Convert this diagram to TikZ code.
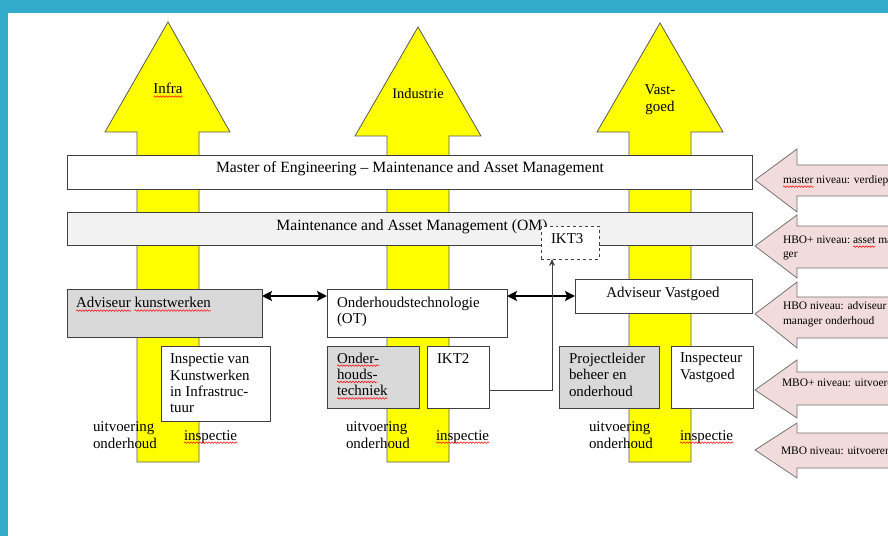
\documentclass[tikz,border=0pt]{standalone}
\usepackage{fontspec}
\setmainfont{Liberation Serif}
\usetikzlibrary{arrows.meta,calc,fit,decorations.pathmorphing}

\definecolor{frameteal}{RGB}{49,171,201}
\definecolor{flowyellow}{RGB}{255,255,0}
\definecolor{edgegray}{RGB}{90,90,90}
\definecolor{boxgray}{RGB}{217,217,217}
\definecolor{barlight}{RGB}{242,242,242}
\definecolor{levelpink}{RGB}{242,220,219}

\tikzset{
  uparrow/.style={fill=flowyellow, draw=edgegray, line width=0.8bp},
  levelarrow/.style={fill=levelpink, draw=edgegray!85, line width=0.8bp},
  panel/.style={draw=black!75, line width=0.9bp, inner sep=0pt, outer sep=0pt, rectangle},
  bar/.style={panel, fill=white},
  greybox/.style={panel, fill=boxgray},
  whitebox/.style={panel, fill=white},
  txt/.style={font=\fontsize{15}{16.4}\selectfont, inner sep=0pt, outer sep=0pt, align=left},
  bartxt/.style={txt, font=\fontsize{15.7}{17}\selectfont},
  smalltxt/.style={font=\fontsize{11.5}{15}\selectfont, inner sep=0pt, outer sep=0pt, align=left},
  link/.style={{Stealth[length=10bp,width=10bp,inset=2bp]}-{Stealth[length=10bp,width=10bp,inset=2bp]}, line width=2.6bp, black},
  feed/.style={-{Stealth[length=7bp,width=6bp]}, draw=black!75, line width=0.8bp},
  spell/.style={draw=red, line width=0.5bp, decorate, decoration={snake, amplitude=0.8bp, segment length=3bp}}
}
% red wavy mark under a named word node
\newcommand\wavyunder[1]{\draw[spell] ($(#1.base west)+(0,2.6)$) -- ($(#1.base east)+(0,2.6)$);}

\begin{document}
\begin{tikzpicture}[x=1bp,y=-1bp]
\useasboundingbox (0,0) rectangle (888,536);
\clip (0,0) rectangle (888,536);

% frame
\fill[white] (0,0) rectangle (888,536);
\fill[frameteal] (0,0) rectangle (888,13);
\fill[frameteal] (0,0) rectangle (8,536);

% three sector arrows
\draw[uparrow] (137,462) -- (137,132) -- (105,132) -- (168,22) -- (230,132) -- (199,132) -- (199,462) -- cycle;
\draw[uparrow] (387,462) -- (387,136) -- (355,136) -- (418,27) -- (481,136) -- (449,136) -- (449,462) -- cycle;
\draw[uparrow] (629,462) -- (629,132) -- (597,132) -- (660,23) -- (723,132) -- (691,132) -- (691,462) -- cycle;

\node[txt, anchor=base] (tinfra) at (168,94) {Infra};
\wavyunder{tinfra}
\node[txt, anchor=base, font=\fontsize{14.5}{16}\selectfont] (tind) at (418,99) {Industrie};
\node[txt, anchor=north, align=center] (tvast) at (660,85) {Vast-\\goed};

% education level arrows
\draw[levelarrow] (900,165) -- (797,165) -- (797,149) -- (755,180) -- (797,212) -- (797,196) -- (900,196);
\draw[levelarrow] (900,226) -- (797,226) -- (797,215) -- (755,246) -- (797,278) -- (797,268) -- (900,268);
\draw[levelarrow] (900,297) -- (797,297) -- (797,282) -- (755,314) -- (797,348) -- (797,338) -- (900,338);
\draw[levelarrow] (900,372) -- (797,372) -- (797,360) -- (755,390) -- (797,418) -- (797,405) -- (900,405);
\draw[levelarrow] (900,433) -- (797,433) -- (797,423) -- (755,450) -- (797,478) -- (797,468) -- (900,468);

\node[smalltxt, anchor=base west] (l1a) at (783,184) {master};
\node[smalltxt, anchor=base west] (l1b) at ($(l1a.base east)+(2.9,0)$) {niveau: verdieping};
\wavyunder{l1a}
\node[smalltxt, anchor=base west] (l2a) at (783,244) {HBO+ niveau:};
\node[smalltxt, anchor=base west] (l2b) at ($(l2a.base east)+(2.9,0)$) {asset};
\node[smalltxt, anchor=base west] (l2c) at ($(l2b.base east)+(2.9,0)$) {mana};
\node[smalltxt, anchor=base west] (l2d) at (783,258) {ger};
\wavyunder{l2b}
\node[smalltxt, anchor=north west] (l3) at (783,302) {HBO niveau: adviseur\\manager onderhoud};
\node[smalltxt, anchor=base west] (l4) at (782,386) {MBO+ niveau: uitvoerend};
\node[smalltxt, anchor=base west] (l5) at (781,454) {MBO niveau: uitvoerend};

% programme bars
\node[bar, fit={(67,155) (752,189)}] (master) {};
\node[bartxt, anchor=base] (tmaster) at (410,173) {Master of Engineering -- Maintenance and Asset Management};
\node[panel, fill=barlight, fit={(67,212) (752,245)}] (om) {};
\node[bartxt, anchor=base] (tom) at (412,231) {Maintenance and Asset Management (OM)};

% job profile boxes
\node[greybox, fit={(67,289) (262,337)}] (ak) {};
\node[whitebox, fit={(327,289) (507,337)}] (ot) {};
\node[whitebox, fit={(575,279) (752,313)}] (av) {};
\node[whitebox, fit={(161,346) (270,421)}] (ikv) {};
\node[greybox, fit={(327,346) (419,408)}] (oht) {};
\node[whitebox, fit={(427,346) (489,408)}] (ikt2) {};
\node[greybox, fit={(559,346) (659,408)}] (pbo) {};
\node[whitebox, fit={(671,346) (753,408)}] (iv) {};
\node[whitebox, dashed, fit={(541,226) (599,259)}] (ikt3) {};

\node[txt, anchor=base west] (tak1) at (76,308) {Adviseur};
\node[txt, anchor=base west] (tak2) at ($(tak1.base east)+(3.75,0)$) {kunstwerken};
\wavyunder{tak1}
\wavyunder{tak2}
\node[txt, anchor=north west] (tot) at (337,297) {Onderhoudstechnologie\\(OT)};
\node[txt, anchor=base] (tav) at (663,298) {Adviseur Vastgoed};
\node[txt, anchor=north west] (tikv) at (170,354) {Inspectie van\\Kunstwerken\\in Infrastruc-\\tuur};
\node[txt, anchor=base west] (toh1) at (337,363) {Onder-};
\node[txt, anchor=base west] (toh2) at (337,379.4) {houds-};
\node[txt, anchor=base west] (toh3) at (337,395.8) {techniek};
\wavyunder{toh1}
\wavyunder{toh2}
\wavyunder{toh3}
\node[txt, anchor=base west] (tikt2) at (437,363) {IKT2};
\node[txt, anchor=north west] (tpbo) at (569,353) {Projectleider\\beheer en\\onderhoud};
\node[txt, anchor=north west] (tiv) at (680,353) {Inspecteur\\Vastgoed};
\node[txt, anchor=base west] (tikt3) at (551,244) {IKT3};

% links between profiles
\draw[link] ($(ak.north east)+(0,7)$) -- ($(ot.north west)+(0,7)$);
\draw[link] ($(ot.north east)+(0,7)$) coordinate (r1) -- (r1 -| av.west);
\draw[feed] ($(ikt2.south east)+(0,-18)$) -| ($(ikt3.south west)+(11,0)$);

% column captions
\node[txt, anchor=north west] (c1a) at (93,422) {uitvoering\\onderhoud};
\node[txt, anchor=base west] (c1b) at (184,440) {inspectie};
\node[txt, anchor=north west] (c2a) at (346,422) {uitvoering\\onderhoud};
\node[txt, anchor=base west] (c2b) at (436,440) {inspectie};
\node[txt, anchor=north west] (c3a) at (589,422) {uitvoering\\onderhoud};
\node[txt, anchor=base west] (c3b) at (680,440) {inspectie};
\wavyunder{c1b}
\wavyunder{c2b}
\wavyunder{c3b}
\end{tikzpicture}
\end{document}
